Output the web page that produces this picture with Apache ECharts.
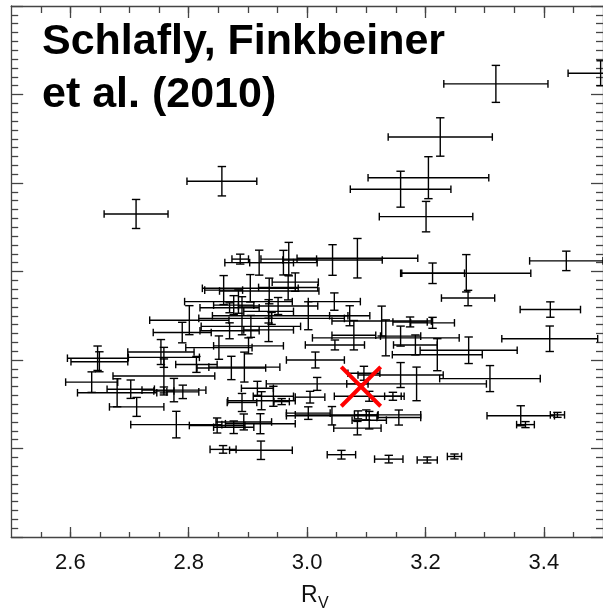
<!DOCTYPE html>
<html>
<head>
<meta charset="utf-8">
<script src="https://cdn.jsdelivr.net/npm/echarts@6/dist/echarts.min.js"></script>
<style>
html,body{margin:0;padding:0;background:#fff;}
#chart{width:603px;height:609px;}
</style>
</head>
<body>
<div id="chart"></div>
<script>
// ---- data ----
const rv = [3.319,3.496,3.225,3.205,3.158,3.201,2.856,2.711,3.438,3.212,3.269,3.272,3.411,3.410,3.273,3.309,3.361,3.369,3.423,2.858,2.922,3.058,3.138,3.203,3.249,
2.919,2.887,2.960,2.969,3.043,3.085,2.980,2.859,2.936,2.904,2.968,2.884,2.869,3.046,2.951,3.002,2.935,2.876,2.801,2.789,2.890,2.905,2.935,2.851,2.753,2.758,2.646,2.649,2.813,2.872,2.894,2.758,2.636,2.702,2.679,2.775,2.790,2.758,2.712,2.779,2.848,2.876,2.893,2.921,2.923,2.957,2.890,2.916,
3.126,3.133,3.079,3.174,3.212,3.158,3.183,3.220,3.014,3.158,3.185,3.145,3.096,3.017,2.943,3.005,3.002,3.042,3.100,3.155,3.105,3.085,3.086,2.901,2.940,2.869,3.047,3.072,3.105];
const rvErr = [0.088,0.055,0.088,0.102,0.085,0.079,0.059,0.054,0.062,0.054,0.109,0.045,0.051,0.081,0.082,0.085,0.057,0.015,0.012,0.022,0.053,0.024,0.024,0.017,0.012,
0.058,0.014,0.057,0.047,0.084,0.102,0.039,0.032,0.084,0.081,0.050,0.091,0.050,0.044,0.067,0.067,0.042,0.034,0.067,0.049,0.050,0.084,0.042,0.056,0.056,0.060,0.051,0.048,0.035,0.058,0.060,0.086,0.044,0.040,0.067,0.054,0.027,0.017,0.046,0.077,0.047,0.034,0.047,0.059,0.057,0.013,0.025,0.027,
0.084,0.124,0.037,0.029,0.037,0.034,0.037,0.076,0.049,0.072,0.118,0.014,0.027,0.086,0.034,0.025,0.037,0.077,0.020,0.037,0.029,0.040,0.106,0.059,0.123,0.050,0.050,0.034,0.059];
const yVal = [5.12,5.24,4.52,4.06,3.93,3.62,4.02,3.65,3.12,2.98,2.98,2.70,2.57,2.24,2.11,1.79,1.37,1.27,1.38,0.99,0.98,0.93,0.88,0.87,0.91,
3.10,3.14,3.10,3.14,3.13,3.15,2.88,2.79,2.78,2.81,2.82,2.66,2.59,2.66,2.61,2.50,2.55,2.62,2.45,2.31,2.50,2.38,2.34,2.14,2.09,2.03,2.02,1.98,1.95,1.91,1.92,1.82,1.75,1.67,1.63,1.66,1.64,1.65,1.47,1.27,1.26,1.24,1.30,1.28,1.54,1.53,1.52,1.68,
2.44,2.25,2.28,2.43,2.42,2.27,2.17,2.06,2.00,1.83,1.73,1.59,1.85,1.73,1.59,1.58,1.40,1.37,1.38,1.35,1.32,1.23,1.38,2.16,2.47,2.33,2.17,2.50,1.59];
const yErr = [0.209,0.141,0.217,0.237,0.203,0.172,0.166,0.164,0.110,0.116,0.211,0.087,0.087,0.144,0.150,0.147,0.113,0.034,0.028,0.043,0.104,0.049,0.043,0.034,0.028,
0.141,0.056,0.139,0.189,0.173,0.223,0.104,0.164,0.145,0.155,0.141,0.132,0.056,0.098,0.096,0.158,0.132,0.107,0.164,0.116,0.215,0.124,0.132,0.132,0.141,0.113,0.138,0.113,0.090,0.132,0.169,0.192,0.116,0.104,0.158,0.132,0.076,0.045,0.107,0.150,0.085,0.071,0.090,0.113,0.102,0.034,0.102,0.079,
0.169,0.203,0.166,0.056,0.062,0.113,0.113,0.181,0.090,0.141,0.190,0.045,0.079,0.073,0.113,0.066,0.071,0.104,0.056,0.085,0.099,0.076,0.045,0.090,0.068,0.090,0.056,0.113,0.056];
const markerX = [3.091];
const markerY = [1.70];
const xMajorTicks = [2.6, 2.8, 3.0, 3.2, 3.4];
const xMinorTicks = [2.55,2.6,2.65,2.7,2.75,2.8,2.85,2.9,2.95,3.0,3.05,3.1,3.15,3.2,3.25,3.3,3.35,3.4,3.45];
const titleLines = ['Schlafly, Finkbeiner', 'et al. (2010)'];
const axisTitle = ['R', 'V'];

// ---- chart ----
const FONT = '"Liberation Sans", Arial, Helvetica, sans-serif';
const AX = '#444';
const chart = echarts.init(document.getElementById('chart'), null, {renderer: 'canvas'});

const errData = rv.map((x, i) => [x, yVal[i], rvErr[i], yErr[i]]);

function errItem(params, api) {
  const x = api.value(0), y = api.value(1), xe = api.value(2), ye = api.value(3);
  const c = api.coord([x, y]);
  const l = api.coord([x - xe, y])[0], r = api.coord([x + xe, y])[0];
  const t = api.coord([x, y + ye])[1], b = api.coord([x, y - ye])[1];
  const st = () => ({stroke: '#000', lineWidth: 1.4});
  const hc = 3.8, vc = 4.2;
  return {type: 'group', children: [
    {type: 'line', shape: {x1: l, y1: c[1], x2: r, y2: c[1]}, style: st()},
    {type: 'line', shape: {x1: l, y1: c[1] - hc, x2: l, y2: c[1] + hc}, style: st()},
    {type: 'line', shape: {x1: r, y1: c[1] - hc, x2: r, y2: c[1] + hc}, style: st()},
    {type: 'line', shape: {x1: c[0], y1: t, x2: c[0], y2: b}, style: st()},
    {type: 'line', shape: {x1: c[0] - vc, y1: t, x2: c[0] + vc, y2: t}, style: st()},
    {type: 'line', shape: {x1: c[0] - vc, y1: b, x2: c[0] + vc, y2: b}, style: st()}
  ]};
}

function crossItem(params, api) {
  const c = api.coord([api.value(0), api.value(1)]);
  const s = 19.7;
  const st = () => ({stroke: '#ff0000', lineWidth: 4});
  return {type: 'group', children: [
    {type: 'line', shape: {x1: c[0] - s, y1: c[1] - s, x2: c[0] + s, y2: c[1] + s}, style: st()},
    {type: 'line', shape: {x1: c[0] - s, y1: c[1] + s, x2: c[0] + s, y2: c[1] - s}, style: st()}
  ]};
}

function xAx(pos, ticks, len, withLabel, withLine) {
  return {
    type: 'value', position: pos, min: 2.5, max: 3.5, gridIndex: 0,
    axisLine: {show: withLine, onZero: false, lineStyle: {color: AX, width: 1.3}},
    axisTick: {show: true, inside: true, length: len, customValues: ticks, lineStyle: {color: AX, width: 1.3}},
    axisLabel: withLabel ? {show: true, customValues: ticks, formatter: v => Number(v).toFixed(1),
      margin: 26, verticalAlign: 'middle', fontSize: 22, color: '#111', fontFamily: FONT} : {show: false},
    splitLine: {show: false}
  };
}
function yAx(pos) {
  return {
    type: 'value', position: pos, min: 0, max: 6, interval: 1, gridIndex: 0,
    axisLine: {show: true, onZero: false, lineStyle: {color: AX, width: 1.3}},
    axisTick: {show: true, inside: true, length: 12, lineStyle: {color: AX, width: 1.3}},
    minorTick: {show: true, splitNumber: 10, length: 7, lineStyle: {color: AX, width: 1.3}},
    axisLabel: {show: false},
    splitLine: {show: false}, minorSplitLine: {show: false}
  };
}

const option = {
  backgroundColor: '#fff',
  animation: false,
  grid: {left: 11.2, top: 6, width: 595.4, height: 531, containLabel: false},
  xAxis: [
    xAx('bottom', xMajorTicks, 10, true, true),
    xAx('bottom', xMinorTicks, 5, false, false),
    xAx('top', xMajorTicks, 12, false, true),
    xAx('top', xMinorTicks, 7, false, false)
  ],
  yAxis: [yAx('left'), yAx('right')],
  series: [
    {type: 'custom', xAxisIndex: 0, yAxisIndex: 0, renderItem: errItem, data: errData, z: 3, clip: false,
      encode: {x: 0, y: 1}},
    {type: 'custom', xAxisIndex: 0, yAxisIndex: 0, renderItem: crossItem, z: 5,
      data: markerX.map((x, i) => [x, markerY[i]]), encode: {x: 0, y: 1}}
  ],
  graphic: [
    {type: 'text', x: 42, y: 42.3, z: 10, style: {text: titleLines[0], font: 'bold 43px ' + FONT, fill: '#000', textAlign: 'left', textVerticalAlign: 'middle'}},
    {type: 'text', x: 42, y: 95.3, z: 10, style: {text: titleLines[1], font: 'bold 43px ' + FONT, fill: '#000', textAlign: 'left', textVerticalAlign: 'middle'}},
    {type: 'text', x: 301, y: 595.8, z: 10, style: {text: axisTitle[0], font: '23px ' + FONT, fill: '#111', textAlign: 'left', textVerticalAlign: 'middle'}},
    {type: 'text', x: 318, y: 603.5, z: 10, style: {text: axisTitle[1], font: '16px ' + FONT, fill: '#111', textAlign: 'left', textVerticalAlign: 'middle'}}
  ]
};
chart.setOption(option);
</script>
</body>
</html>
